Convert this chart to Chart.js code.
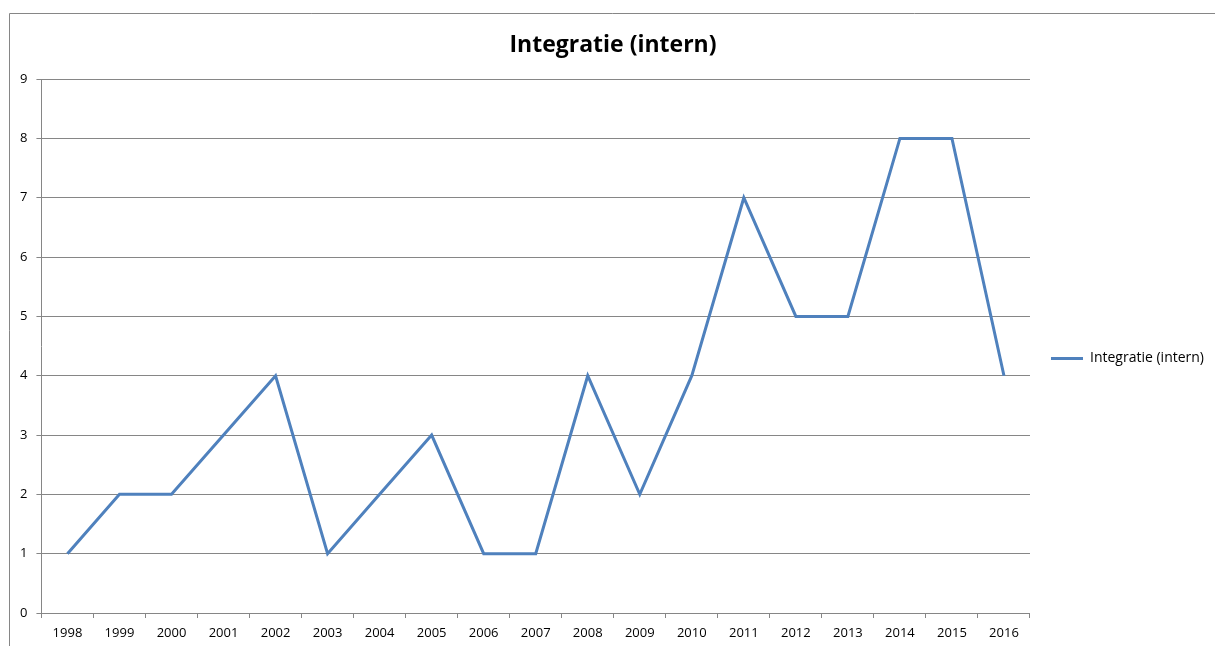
<!DOCTYPE html>
<html>
<head>
<meta charset="utf-8">
<script src="https://cdn.jsdelivr.net/npm/chart.js@4.4.1/dist/chart.umd.min.js"></script>
<style>
html,body{margin:0;padding:0;background:#fff;}
#wrap{position:absolute;left:0;top:0;width:1215px;height:646px;}
</style>
</head>
<body>
<div id="wrap"><canvas id="c" width="1215" height="646"></canvas></div>
<script>
const chartTitle = "Integratie (intern)";
const seriesName = "Integratie (intern)";
const years = ["1998","1999","2000","2001","2002","2003","2004","2005","2006","2007","2008","2009","2010","2011","2012","2013","2014","2015","2016"];
const values = [1,2,2,3,4,1,2,3,1,1,4,2,4,7,5,5,8,8,4];
const yMin = 0, yMax = 9, yStep = 1;

const frame = {
  id: 'frame',
  beforeDraw(chart) {
    const ctx = chart.ctx;
    ctx.save();
    ctx.strokeStyle = '#868686';
    ctx.lineWidth = 1;
    ctx.beginPath();
    ctx.moveTo(9.5, 660);
    ctx.lineTo(9.5, 13.5);
    ctx.lineTo(1230, 13.5);
    ctx.stroke();
    ctx.restore();
  }
};

// nudge legend and title boxes (Excel places them slightly differently)
const boxShift = {
  id: 'boxShift',
  afterLayout(chart) {
    const lg = chart.legend;
    if (lg) {
      const dx = 11, dy = 39;
      lg.left += dx; lg.right += dx;
      lg.top += dy; lg.bottom += dy;
    }
    const tb = chart.titleBlock;
    if (tb) { tb.left += 6; tb.right += 6; }
  }
};

const gray = '#868686';
new Chart(document.getElementById('c'), {
  type: 'line',
  data: {
    labels: years,
    datasets: [{
      label: seriesName,
      data: values,
      borderColor: '#4F81BD',
      backgroundColor: '#4F81BD',
      borderWidth: 3,
      pointRadius: 0,
      pointHoverRadius: 0,
      tension: 0,
      fill: false
    }]
  },
  options: {
    responsive: false,
    animation: false,
    devicePixelRatio: 1,
    layout: { padding: { left: 11, right: 12, top: 0, bottom: 7 } },
    plugins: {
      title: {
        display: true,
        text: chartTitle,
        color: '#000',
        font: { family: 'Open Sans', size: 23, weight: 'bold' },
        padding: { top: 32, bottom: 19.5 }
      },
      legend: {
        display: true,
        position: 'right',
        labels: {
          usePointStyle: true,
          pointStyle: 'line',
          pointStyleWidth: 32,
          color: '#000',
          font: { family: 'Open Sans', size: 14 },
          padding: 10
        }
      },
      tooltip: { enabled: false }
    },
    scales: {
      x: {
        offset: true,
        afterFit(scale) { scale.height = 26; },
        grid: { display: true, offset: true, drawOnChartArea: false, drawTicks: true, tickLength: 5, color: gray },
        border: { display: true, color: gray, width: 1 },
        ticks: { color: '#000', font: { family: 'Open Sans', size: 13, lineHeight: 1.0 }, padding: 9, maxRotation: 0, autoSkip: false }
      },
      y: {
        min: yMin, max: yMax,
        grid: { display: true, drawOnChartArea: true, drawTicks: true, tickLength: 5, color: gray },
        border: { display: true, color: gray, width: 1 },
        ticks: { stepSize: yStep, color: '#000', font: { family: 'Open Sans', size: 13 }, padding: 9 }
      }
    }
  },
  plugins: [frame, boxShift]
});
</script>
</body>
</html>
